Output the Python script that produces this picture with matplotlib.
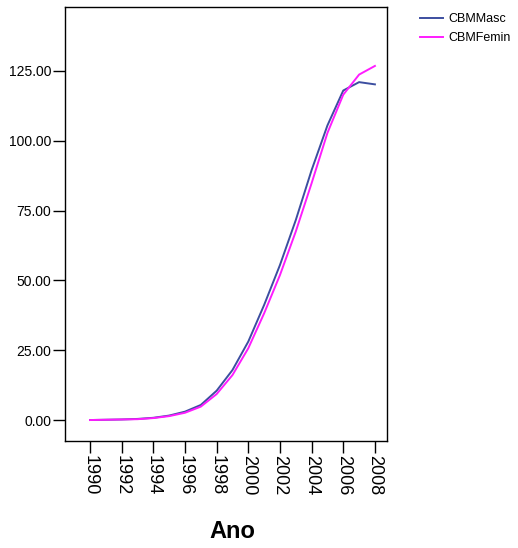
import matplotlib
matplotlib.use("Agg")
import matplotlib.pyplot as plt
from matplotlib import font_manager

# --- data ---
anos = list(range(1990, 2009))
cbm_masc = [0.0, 0.1, 0.2, 0.4, 0.8, 1.6, 3.0, 5.4, 10.5, 17.9, 28.1, 41.2,
            55.5, 71.6, 89.5, 105.5, 118.0, 121.0, 120.2]
cbm_femin = [0.0, 0.1, 0.2, 0.3, 0.7, 1.4, 2.6, 4.8, 9.3, 16.1, 25.7, 38.2,
             51.9, 67.5, 84.8, 102.8, 116.5, 123.7, 126.8]
yticks = [0, 25, 50, 75, 100, 125]
xticks = list(range(1990, 2009, 2))

names = {f.name for f in font_manager.fontManager.ttflist}
fam = "Liberation Sans Narrow" if "Liberation Sans Narrow" in names else "Liberation Sans"
plt.rcParams["font.family"] = [fam, "DejaVu Sans"]

fig = plt.figure(figsize=(5.18, 5.48), dpi=100)
ax = fig.add_axes([0.1255, 0.1953, 0.6215, 0.7919])

l1, = ax.plot(anos, cbm_masc, color="#3c4ea0", lw=1.4, label="CBMMasc")
l2, = ax.plot(anos, cbm_femin, color="#ff1cff", lw=1.4, label="CBMFemin")

ax.set_xlim(1988.42, 2008.76)
ax.set_ylim(-7.5, 147.9)
ax.set_yticks(yticks)
ax.set_yticklabels([f"{v:.2f}" for v in yticks], fontsize=10)
ax.set_xticks(xticks)
ax.set_xticklabels([str(v) for v in xticks], rotation=270, fontsize=13)
ax.tick_params(direction="out", length=8.5, width=1, color="black", pad=1.5)
for s in ax.spines.values():
    s.set_linewidth(1)

fig.text(0.448, 0.03, "Ano", ha="center", va="center", fontsize=17, fontweight="bold")

# legend sits outside the axes, top right
fig.legend(handles=[l1, l2], loc="upper left", bbox_to_anchor=(0.801, 0.985),
           frameon=False, fontsize=9, handlelength=1.85, handletextpad=0.4,
           labelspacing=0.55, borderaxespad=0)

fig.savefig("out.png", dpi=100)
